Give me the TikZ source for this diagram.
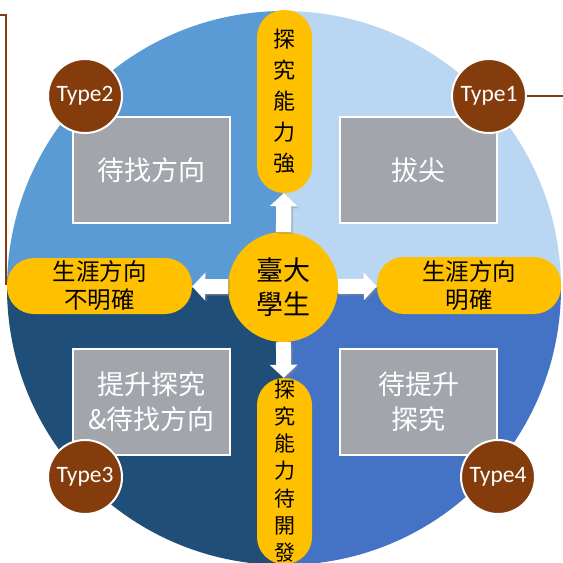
\documentclass[tikz,border=0pt]{standalone}
\usepackage{fontspec}
\setmainfont{Noto Sans CJK TC}
\newfontfamily\latf{Carlito}
\usetikzlibrary{arrows.meta}
\definecolor{qtl}{RGB}{91,155,213}
\definecolor{qtr}{RGB}{185,214,243}
\definecolor{qbl}{RGB}{31,78,121}
\definecolor{qbr}{RGB}{68,114,196}
\definecolor{ygold}{RGB}{255,192,0}
\definecolor{gbox}{RGB}{162,166,172}
\definecolor{tbrown}{RGB}{132,60,12}
\tikzset{
  pill/.style={fill=ygold, draw=none, rounded corners=27pt, inner sep=0pt, align=center, text=black},
  gray box/.style={fill=gbox, draw=white, line width=2.5pt, minimum width=157pt, minimum height=106pt, inner sep=0pt, align=center, text=white, font=\fontsize{27pt}{35pt}\selectfont},
  typec/.style={circle, fill=tbrown, draw=white, line width=2pt, minimum size=74pt, inner sep=0pt, text=white, font=\latf\fontsize{23.5pt}{26pt}\selectfont},
  blockarrow/.style={draw=white, line width=15pt, -{Triangle[width=27pt,length=13pt]}},
  arrowshadow/.style={draw=black!45, opacity=0.35, line width=15pt, -{Triangle[width=27pt,length=13pt]}, transform canvas={xshift=2pt,yshift=-2pt}},
  bline/.style={draw=tbrown, line width=1.3pt}
}
\begin{document}
\begin{tikzpicture}[x=1pt,y=-1pt]
\useasboundingbox (0,0) rectangle (563,563);
\clip (0,0) rectangle (563,563);
% quadrant circle
\begin{scope}
  \clip (284,288) circle[radius=277pt];
  \fill[qtl] (0,0) rectangle (284,288);
  \fill[qtr] (284,0) rectangle (563,288);
  \fill[qbl] (0,288) rectangle (284,600);
  \fill[qbr] (284,288) rectangle (563,600);
\end{scope}
% gray boxes
\node[gray box] (b2) at (151.5,170) {待找方向};
\node[gray box] (b1) at (418.5,170) {拔尖};
\node[gray box] (b3) at (151.5,402) {提升探究\\\&待找方向};
\node[gray box] (b4) at (418.5,402) {待提升\\探究};
% type circles
\node[typec] (t2) at (85,96) {Type2};
\node[typec] (t1) at (489,96) {Type1};
\node[typec] (t3) at (85,477) {Type3};
\node[typec] (t4) at (498,477) {Type4};
% brown lines
\coordinate (r1) at (563,96);
\coordinate (l0) at (0,15);
\coordinate (l1) at (6,15);
\coordinate (l2) at (6,285);
\draw[bline] (t1) -- (r1);
\draw[bline] (l0) -- (l1) -- (l2);
% pills
\node[pill, minimum width=55pt, minimum height=183pt, font=\fontsize{22pt}{31pt}\selectfont] (tp) at (284.5,101.5) {探\\究\\能\\力\\強};
\node[pill, minimum width=55pt, minimum height=186pt, font=\fontsize{21pt}{27.3pt}\selectfont] (bp) at (284.5,471) {探\\究\\能\\力\\待\\開\\發};
\node[pill, minimum width=185pt, minimum height=56pt, font=\fontsize{23.5pt}{28pt}\selectfont] (lp) at (99.5,286) {生涯方向\\不明確};
\node[pill, minimum width=184pt, minimum height=57pt, font=\fontsize{23.5pt}{28pt}\selectfont] (rp) at (469,285.5) {生涯方向\\明確};
% center
\node[circle, fill=ygold, minimum size=110pt, inner sep=0pt, align=center, font=\fontsize{27pt}{34pt}\selectfont] (c) at (283,287) {臺大\\學生};
% arrows
\foreach \t in {tp,bp,lp,rp}{
  \draw[arrowshadow] (c) -- (\t);
}
\foreach \t in {tp,bp,lp,rp}{
  \draw[blockarrow] (c) -- (\t);
}
\end{tikzpicture}
\end{document}
